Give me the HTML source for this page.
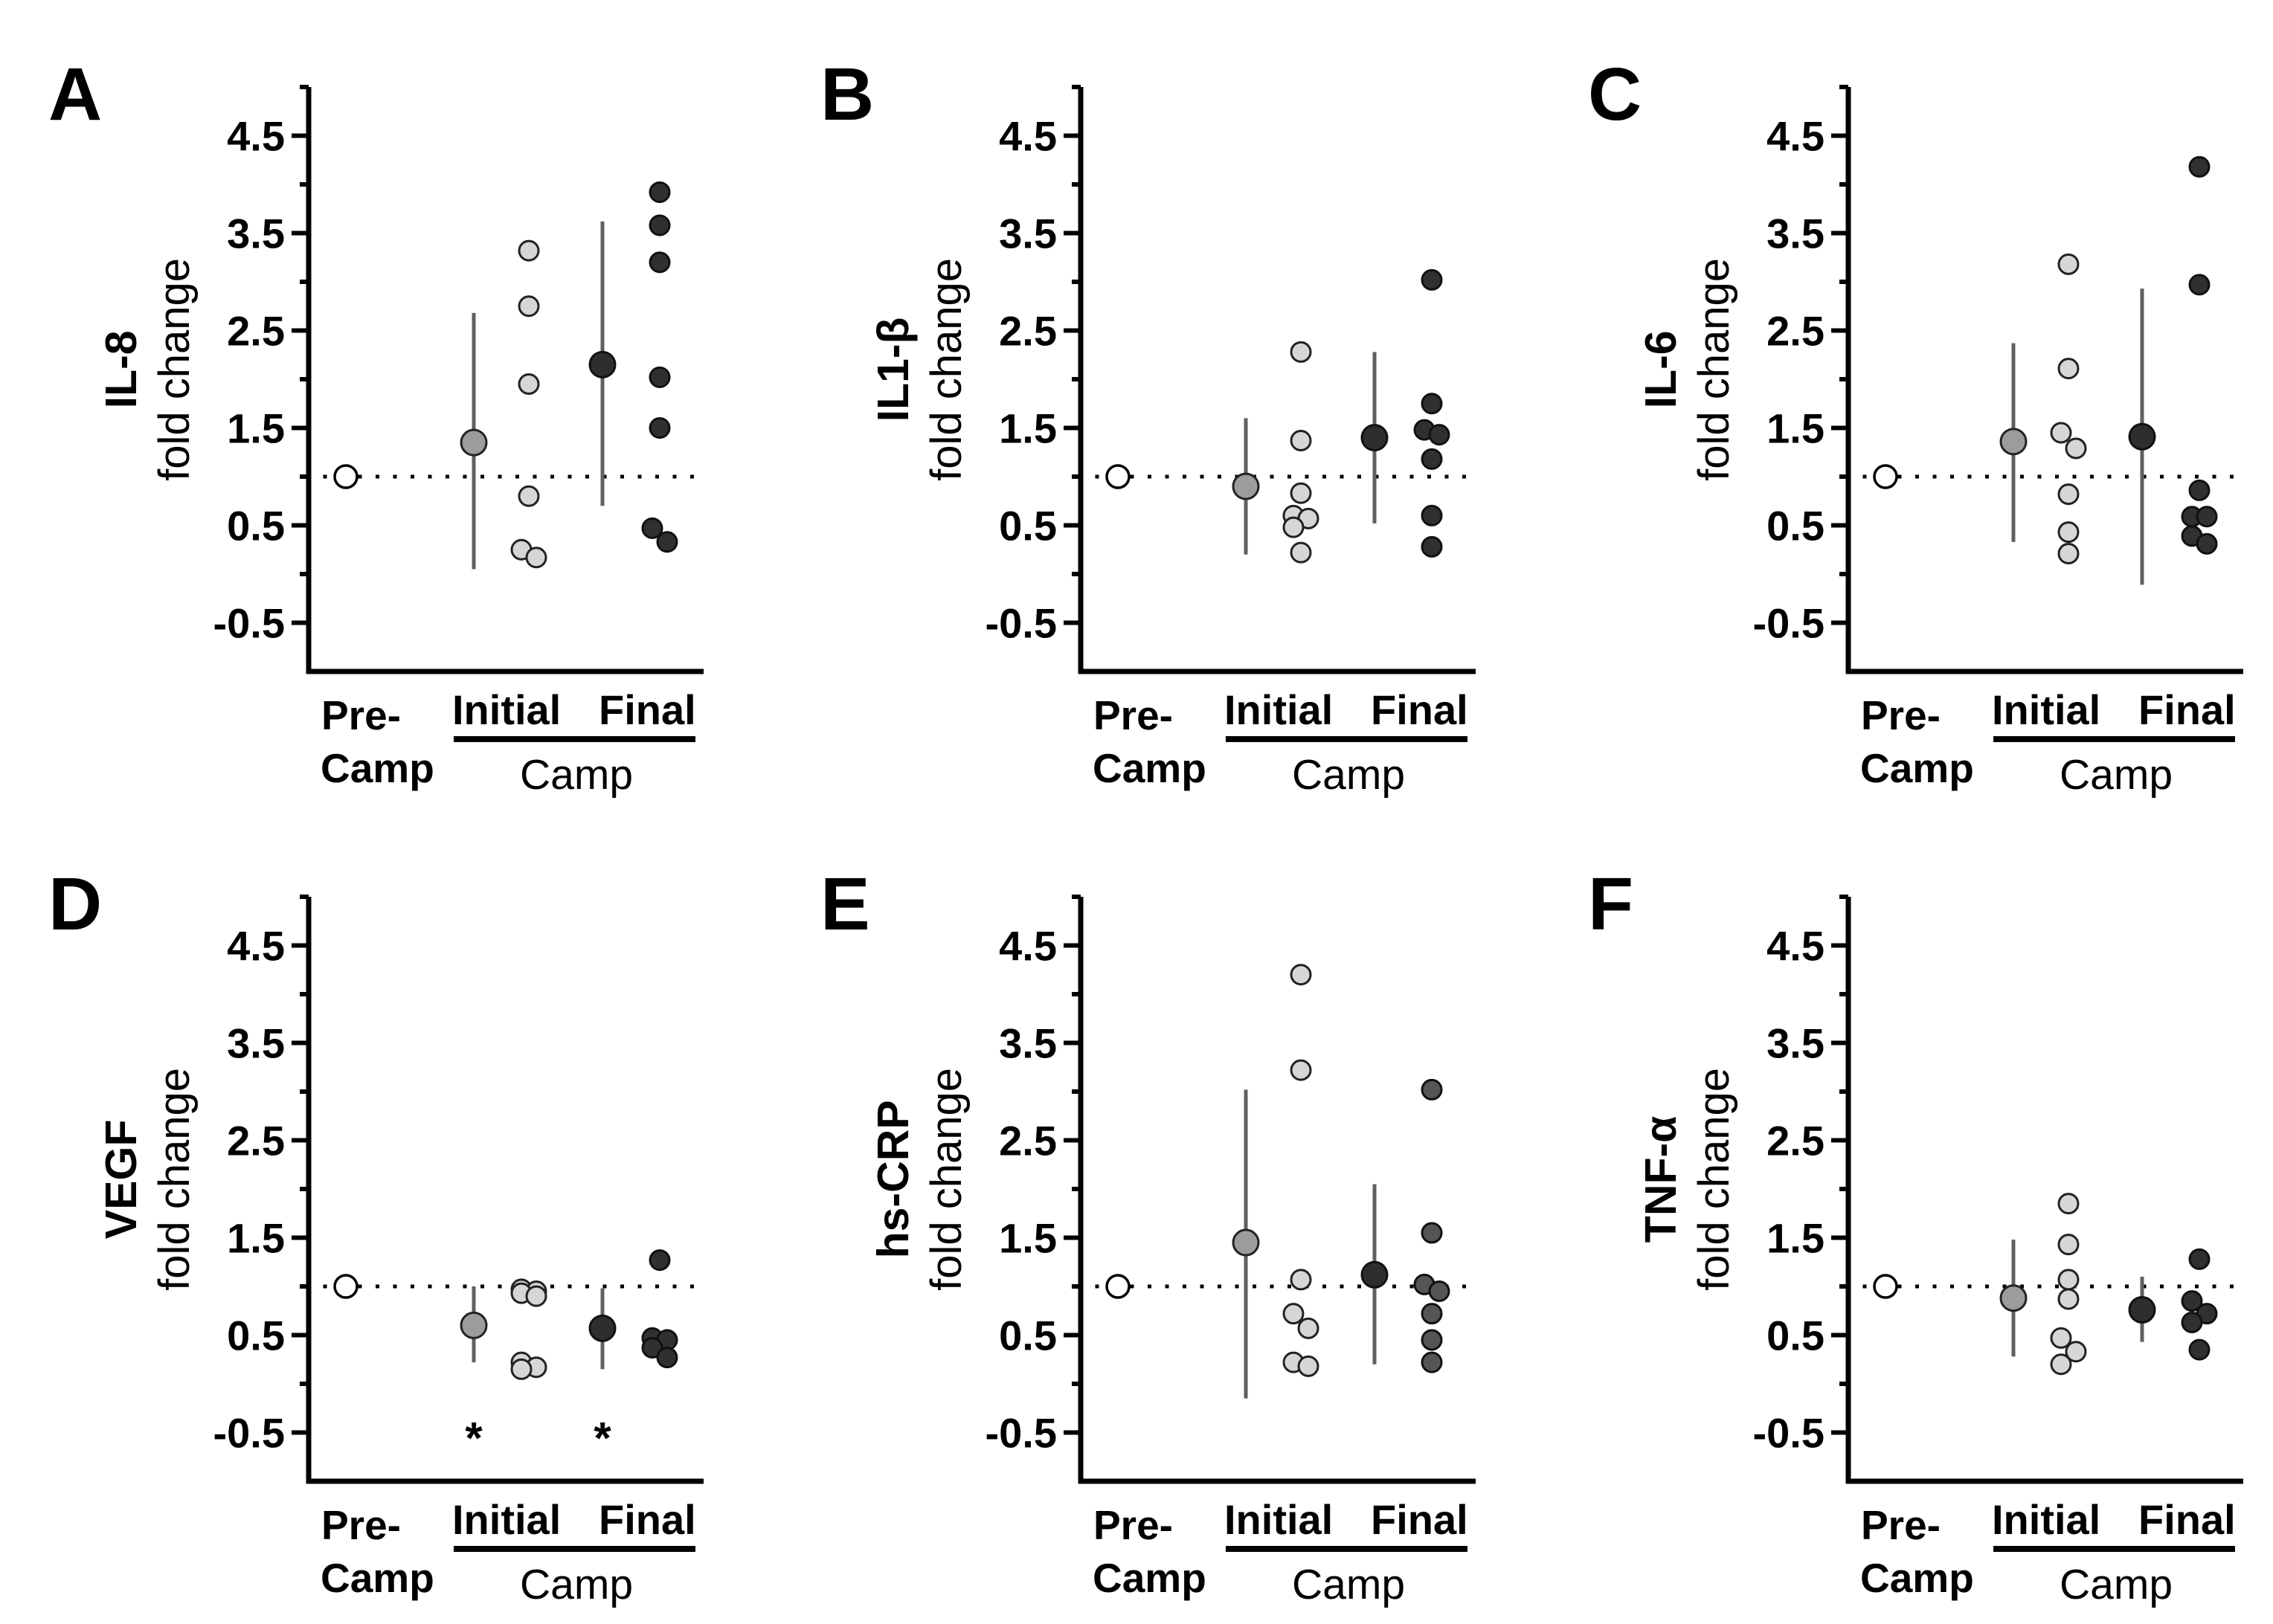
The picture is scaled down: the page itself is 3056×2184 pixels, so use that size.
<!DOCTYPE html>
<html><head><meta charset="utf-8"><style>
html,body{margin:0;padding:0;background:#fff;}
svg{display:block;font-family:"Liberation Sans",Arial,sans-serif;}
</style></head><body>
<svg id="fig" width="3056" height="2184" viewBox="0 0 3056 2184" xmlns="http://www.w3.org/2000/svg"></svg>
<script>
// ---- data ----
const panelLetters = ["A","B","C","D","E","F"];
const panelTitles = ["IL-8","IL1-β","IL-6","VEGF","hs-CRP","TNF-α"];
const yTicks = [-0.5,0.5,1.5,2.5,3.5,4.5];
const yTickLabels = ["-0.5","0.5","1.5","2.5","3.5","4.5"];
const preCamp = [1,1,1,1,1,1];
const initialMean = [1.35,0.9,1.36,0.6,1.45,0.88];
const initialLow  = [0.05,0.2,0.33,0.22,-0.15,0.28];
const initialHigh = [2.68,1.6,2.37,1.0,3.02,1.48];
const finalMean = [2.15,1.4,1.41,0.57,1.12,0.76];
const finalLow  = [0.7,0.52,-0.11,0.15,0.2,0.43];
const finalHigh = [3.62,2.28,2.93,0.98,2.05,1.1];
const initialA = [3.32,2.75,1.95,0.8,0.25,0.17];
const initialB = [2.28,1.37,0.83,0.6,0.57,0.48,0.22];
const initialC = [3.18,2.11,1.45,1.29,0.82,0.43,0.21];
const initialD = [0.97,0.95,0.93,0.9,0.22,0.17,0.15];
const initialE = [4.2,3.22,1.07,0.72,0.57,0.22,0.18];
const initialF = [1.85,1.43,1.07,0.87,0.47,0.33,0.2];
const finalA = [3.92,3.58,3.2,2.02,1.5,0.47,0.33];
const finalB = [3.02,1.75,1.48,1.43,1.18,0.6,0.28];
const finalC = [4.18,2.97,0.86,0.59,0.59,0.39,0.31];
const finalD = [1.27,0.47,0.45,0.37,0.27];
const finalE = [3.02,1.55,1.02,0.95,0.72,0.45,0.22];
const finalF = [1.28,0.85,0.72,0.63,0.35];
const initialPts = [initialA,initialB,initialC,initialD,initialE,initialF];
const finalPts = [finalA,finalB,finalC,finalD,finalE,finalF];
const significant = [[false,false],[false,false],[false,false],[true,true],[false,false],[false,false]];

// ---- layout ----
const NS="http://www.w3.org/2000/svg";
const svg=document.getElementById('fig');
const axisX=[415,1453,2485,415,1453,2485];
const rowY1=[641,641,641,1730,1730,1730]; // y pixel of value 1.0
const UNIT=131;
const finalFill=["#303030","#303030","#303030","#303030","#555555","#303030"];
function mk(tag,attrs,parent){const e=document.createElementNS(NS,tag);for(const k in attrs)e.setAttribute(k,attrs[k]);(parent||svg).appendChild(e);return e;}
function jitter(vals,cx){
  const out=[];let prev=null;
  vals.forEach(v=>{let x=cx;
    if(prev!==null&&Math.abs(prev.v-v)<0.2){x=prev.x===cx?cx+10:(prev.x>cx?cx-10:cx+10);if(prev.x===cx){prev.x=cx-10;}}
    const o={v:v,x:x};out.push(o);prev=o;});
  return out;
}
for(let p=0;p<6;p++){
  const ax=axisX[p];
  const yv=v=>rowY1[p]-(v-1)*UNIT;
  const g=mk('g',{});
  
  
  const L=mk('text',{x:ax-350,y:yv(5)+44,'font-size':100,'font-weight':'bold'},g);L.textContent=panelLetters[p];
  
  
  const tx=ax-232, ty=yv(2.1);
  const t1=mk('text',{x:0,y:0,'font-size':59,'font-weight':'bold','text-anchor':'middle',transform:`translate(${tx},${ty}) rotate(-90)`},g);
  t1.textContent=panelTitles[p];
  
  
  const t2=mk('text',{x:0,y:0,'font-size':58,'text-anchor':'middle',transform:`translate(${tx+71},${ty}) rotate(-90)`},g);
  t2.textContent='fold change';
  
  
  const yAx=mk('line',{x1:ax,y1:yv(5),x2:ax,y2:yv(-1)+3,stroke:'#000','stroke-width':7},g);
  
  
  const xAx=mk('line',{x1:ax-3,y1:yv(-1),x2:ax+531,y2:yv(-1),stroke:'#000','stroke-width':7},g);
  
  
  for(let v=-0.5;v<=5.01;v+=0.5){
    const major=yTicks.some(t=>Math.abs(t-v)<1e-6);
    const tk=mk('line',{x1:ax-(major?23:12),y1:yv(v),x2:ax,y2:yv(v),stroke:'#000','stroke-width':6},g);
    
    
  }
  yTicks.forEach((v,i)=>{
    const tl=mk('text',{x:ax-32,y:yv(v)+20,'font-size':56,'font-weight':'bold','text-anchor':'end'},g);
    tl.textContent=yTickLabels[i];
    
    
  });
  const by=yv(-1);
  const a=mk('text',{x:ax+17,y:by+78,'font-size':55,'font-weight':'bold'},g);a.textContent='Pre-';
  
  
  const b=mk('text',{x:ax+16,y:by+149,'font-size':55,'font-weight':'bold'},g);b.textContent='Camp';
  
  
  const c=mk('text',{x:ax+193,y:by+71,'font-size':56,'font-weight':'bold'},g);c.textContent='Initial';
  
  
  const d=mk('text',{x:ax+390,y:by+71,'font-size':56,'font-weight':'bold'},g);d.textContent='Final';
  
  
  const u=mk('line',{x1:ax+195,y1:by+91,x2:ax+520,y2:by+91,stroke:'#000','stroke-width':8},g);
  
  
  const e=mk('text',{x:ax+360,y:by+158,'font-size':57,'text-anchor':'middle'},g);e.textContent='Camp';
  
  
  const ref=mk('line',{x1:ax-4,y1:yv(1),x2:ax+531,y2:yv(1),stroke:'#000','stroke-width':5,'stroke-dasharray':'5 18.5'},g);
  
  
  const xi=ax+222, xf=ax+395, xs=ax+296, xfs=ax+472;
  const e1=mk('line',{x1:xi,y1:yv(initialLow[p]),x2:xi,y2:yv(initialHigh[p]),stroke:'#606060','stroke-width':5},g);
  
  
  const e2=mk('line',{x1:xf,y1:yv(finalLow[p]),x2:xf,y2:yv(finalHigh[p]),stroke:'#606060','stroke-width':5},g);
  
  
  const pc=mk('circle',{cx:ax+50,cy:yv(preCamp[p]),r:15,fill:'#fff',stroke:'#000','stroke-width':3.5},g);
  
  
  const m1=mk('circle',{cx:xi,cy:yv(initialMean[p]),r:17,fill:'#9c9c9c',stroke:'#222','stroke-width':3},g);
  
  
  const m2=mk('circle',{cx:xf,cy:yv(finalMean[p]),r:17,fill:'#2e2e2e',stroke:'#111','stroke-width':3},g);
  
  
  jitter(initialPts[p],xs).forEach(o=>{
    const pt=mk('circle',{cx:o.x,cy:yv(o.v),r:13,fill:'#d6d6d6',stroke:'#222','stroke-width':3},g);
    
    
  });
  jitter(finalPts[p],xfs).forEach(o=>{
    const pt=mk('circle',{cx:o.x,cy:yv(o.v),r:13,fill:finalFill[p],stroke:'#111','stroke-width':3},g);
    
    
  });
  if(significant[p][0]){const s=mk('text',{x:xi,y:yv(-0.5)+28,'font-size':60,'font-weight':'bold','text-anchor':'middle'},g);s.textContent='*';
    
    }
  if(significant[p][1]){const s=mk('text',{x:xf,y:yv(-0.5)+28,'font-size':60,'font-weight':'bold','text-anchor':'middle'},g);s.textContent='*';
    
    }
}
</script>
</body></html>
